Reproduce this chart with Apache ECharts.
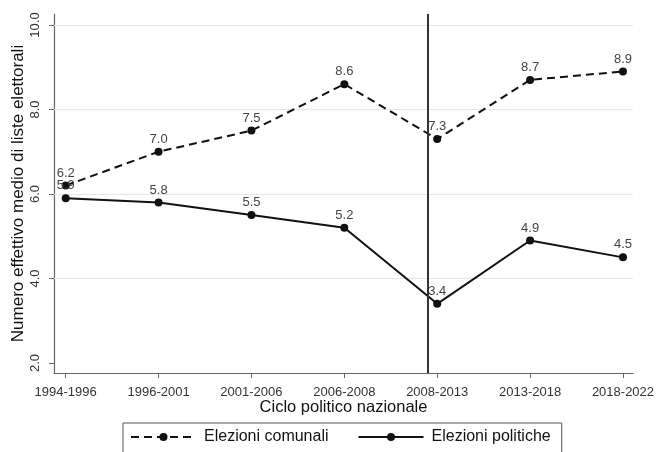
<!DOCTYPE html>
<html>
<head>
<meta charset="utf-8">
<script src="https://cdn.jsdelivr.net/npm/echarts@6/dist/echarts.min.js"></script>
<style>html,body{margin:0;padding:0;background:#fff}#c{width:656px;height:452px}</style>
</head>
<body>
<div id="c"></div>
<script>
var categories = ['1994-1996','1996-2001','2001-2006','2006-2008','2008-2013','2013-2018','2018-2022'];
var comunali = [6.2, 7.0, 7.5, 8.6, 7.3, 8.7, 8.9];
var politiche = [5.9, 5.8, 5.5, 5.2, 3.4, 4.9, 4.5];
var yTicks = [2, 4, 6, 8, 10];
var gridValues = [4, 6, 8, 10];
var breakPosition = 3.9;
var seriesNames = ['Elezioni comunali', 'Elezioni politiche'];

var FONT = '"Liberation Sans", Arial, sans-serif';
var chart = echarts.init(document.getElementById('c'), null, {renderer: 'canvas'});
function pairs(arr){ return arr.map(function(v,i){ return [i, v]; }); }
var labelCfg = {show: true, position: 'top', distance: 2, color: '#444', fontSize: 13, fontFamily: FONT,
  formatter: function(p){ return p.value[1].toFixed(1); }};
chart.setOption({
  animation: false,
  textStyle: {fontFamily: FONT},
  grid: {left: 54, right: 23, top: 14, bottom: 79, containLabel: false, outerBoundsMode: 'none'},
  xAxis: {
    type: 'value', min: -0.126, max: 6.108,
    name: 'Ciclo politico nazionale', nameLocation: 'middle', nameGap: 26, nameMoveOverlap: false,
    nameTextStyle: {fontSize: 16.5, color: '#111', fontFamily: FONT},
    axisLine: {show: true, onZero: false, lineStyle: {color: '#666', width: 1.2}},
    axisTick: {show: true, length: 5, lineStyle: {color: '#666'}, customValues: categories.map(function(c,i){return i;})},
    axisLabel: {customValues: categories.map(function(c,i){return i;}), fontSize: 13, color: '#333', margin: 13,
      formatter: function(v){ return categories[Math.round(v)]; }},
    splitLine: {show: false}
  },
  yAxis: {
    type: 'value', min: 1.763, max: 10.26,
    name: 'Numero effettivo medio di liste elettorali', nameLocation: 'middle', nameGap: 27, nameRotate: 90,
    nameMoveOverlap: false,
    nameTextStyle: {fontSize: 17, color: '#111', fontFamily: FONT},
    axisLine: {show: true, onZero: false, lineStyle: {color: '#666', width: 1.2}},
    axisTick: {show: true, length: 5, lineStyle: {color: '#666'}, customValues: yTicks},
    axisLabel: {customValues: yTicks, rotate: 90, fontSize: 13, color: '#333', margin: 12,
      formatter: function(v){ return v.toFixed(1); }},
    splitLine: {show: false}
  },
  legend: {
    left: 123, top: 423, width: 441,
    padding: [6, 11, 8, 7], itemGap: 29,
    borderColor: '#555', borderWidth: 1,
    itemWidth: 65, itemHeight: 10,
    textStyle: {fontSize: 16, color: '#111', fontFamily: FONT, padding: [0, 0, 0, 3]},
    data: seriesNames
  },
  series: [
    {
      name: seriesNames[0], type: 'line', data: pairs(comunali),
      symbol: 'circle', symbolSize: 8,
      itemStyle: {color: '#111'},
      lineStyle: {color: '#111', width: 2, type: [8, 5]},
      label: labelCfg, z: 5,
      markLine: {
        silent: true, symbol: 'none', label: {show: false},
        lineStyle: {color: '#e6e6e6', width: 1.2, type: 'solid'},
        data: gridValues.map(function(v){ return {yAxis: v}; }),
        z: 1
      }
    },
    {
      name: seriesNames[1], type: 'line', data: pairs(politiche),
      symbol: 'circle', symbolSize: 8,
      itemStyle: {color: '#111'},
      lineStyle: {color: '#111', width: 2, type: 'solid'},
      label: labelCfg, z: 5,
      markLine: {
        silent: true, symbol: 'none', label: {show: false},
        lineStyle: {color: '#333', width: 2, type: 'solid'},
        data: [{xAxis: breakPosition}],
        z: 6
      }
    }
  ]
});
</script>
</body>
</html>
